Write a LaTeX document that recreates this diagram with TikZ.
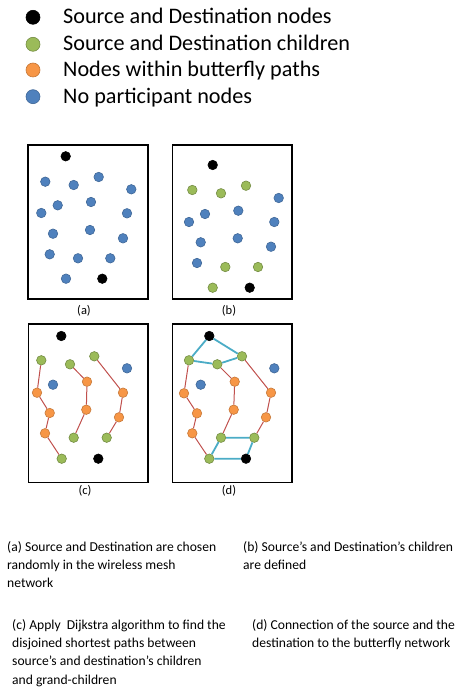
\documentclass[tikz,border=0pt]{standalone}
\usepackage{fontspec}
\setmainfont{Carlito}
\usepackage{tikz}
\definecolor{srcblack}{RGB}{0,0,0}
\definecolor{childgreen}{RGB}{155,187,89}
\definecolor{pathorange}{RGB}{247,150,70}
\definecolor{idleblue}{RGB}{79,129,189}
\definecolor{pathred}{RGB}{192,80,77}
\definecolor{linkcyan}{RGB}{75,172,198}

\begin{document}
\begin{tikzpicture}[x=1pt,y=-1pt]
	\tikzstyle{dot}=[circle,inner sep=0pt,minimum size=9.5pt,line width=0.6pt]
	\tikzstyle{src}=[dot,fill=srcblack,draw=srcblack]
	\tikzstyle{child}=[dot,fill=childgreen,draw=childgreen!75!black]
	\tikzstyle{hop}=[dot,fill=pathorange,draw=pathorange!80!black]
	\tikzstyle{idle}=[dot,fill=idleblue,draw=idleblue!80!black]
	\tikzstyle{legdot}=[dot,minimum size=14pt]
	\tikzstyle{panel}=[draw,line width=1.4pt]
	\tikzstyle{path}=[pathred,line width=1pt]
	\tikzstyle{link}=[linkcyan,line width=1.8pt]
	\tikzstyle{legend}=[anchor=base west,inner sep=0pt,font=\fontsize{22.2}{26}\selectfont]
	\tikzstyle{caption}=[anchor=north west,inner sep=0pt,align=left,font=\fontsize{13.6}{18.4}\selectfont]
	\tikzstyle{tag}=[font=\fontsize{12.5}{14}\selectfont]

	\useasboundingbox (0,0) rectangle (456,692);

	% legend
	\node[src,legdot] at (33,17.3) (ls) {};
	\node[child,legdot] at (33,44.3) (lc) {};
	\node[hop,legdot] at (33,70) (lh) {};
	\node[idle,legdot] at (33,96.7) (li) {};
	\node[legend] at (63,24) (lst) {Source and Destination nodes};
	\node[legend] at (63,51) (lct) {Source and Destination children};
	\node[legend] at (63,77) (lht) {Nodes within butterfly paths};
	\node[legend] at (63,103.5) (lit) {No participant nodes};

	% panel (a)
	\draw[panel] (28,145) rectangle (148,299);
	\node[tag] at (84,311) (ta) {(a)};
	\node[src] at (65.7,156.3) (sa) {};
	\node[idle] at (45.3,181.7) (na1) {};
	\node[idle] at (73.7,185) (na2) {};
	\node[idle] at (98.7,177) (na3) {};
	\node[idle] at (131.3,189.3) (na4) {};
	\node[idle] at (57.7,205.3) (na5) {};
	\node[idle] at (91,202) (na6) {};
	\node[idle] at (41.3,213) (na7) {};
	\node[idle] at (127,213.3) (na8) {};
	\node[idle] at (53,233.7) (na9) {};
	\node[idle] at (90,230) (na10) {};
	\node[idle] at (123,238.3) (na11) {};
	\node[idle] at (49.7,254.3) (na12) {};
	\node[idle] at (78,258.3) (na13) {};
	\node[idle] at (110.3,258.3) (na14) {};
	\node[idle] at (66,278.7) (na15) {};
	\node[src] at (102.3,278.7) (da) {};

	% panel (b)
	\draw[panel] (172.3,145) rectangle (292,299);
	\node[tag] at (229,311) (tb) {(b)};
	\node[src] at (212.7,165) (sb) {};
	\node[child] at (192.3,190) (gb1) {};
	\node[child] at (221,193.3) (gb2) {};
	\node[child] at (246,185.7) (gb3) {};
	\node[idle] at (278.7,198) (nb1) {};
	\node[idle] at (205,214) (nb2) {};
	\node[idle] at (238.3,210.7) (nb3) {};
	\node[idle] at (189,222) (nb4) {};
	\node[idle] at (274.3,222) (nb5) {};
	\node[idle] at (200.7,242.3) (nb6) {};
	\node[idle] at (237.7,238.3) (nb7) {};
	\node[idle] at (271,246.7) (nb8) {};
	\node[idle] at (197,263) (nb9) {};
	\node[child] at (225.3,267) (gb4) {};
	\node[child] at (258,267) (gb5) {};
	\node[child] at (212.7,287.7) (gb6) {};
	\node[src] at (249.7,287.7) (db) {};

	% panel (c)
	\draw[panel] (28.3,324) rectangle (148,482.3);
	\node[tag] at (85,491) (tc) {(c)};
	\node[src] at (61.3,336) (sc) {};
	\node[child] at (41.3,360.3) (gc1) {};
	\node[child] at (70,364.3) (gc2) {};
	\node[child] at (94.3,356.3) (gc3) {};
	\node[idle] at (127,368.3) (nc1) {};
	\node[idle] at (53,384.7) (nc2) {};
	\node[hop] at (37,392.7) (oc1) {};
	\node[hop] at (87,381.7) (oc2) {};
	\node[hop] at (123,392.7) (oc3) {};
	\node[hop] at (49.7,413) (oc4) {};
	\node[hop] at (86.3,409.7) (oc5) {};
	\node[hop] at (119,417.3) (oc6) {};
	\node[hop] at (45,433.3) (oc7) {};
	\node[child] at (73.7,437.7) (gc4) {};
	\node[child] at (106.7,437.7) (gc5) {};
	\node[child] at (61.7,458.7) (gc6) {};
	\node[src] at (98.3,458.7) (dc) {};

	\draw[path] (gc1) -- (oc1) -- (oc4) -- (oc7) -- (gc6);
	\draw[path] (gc2) -- (oc2) -- (oc5) -- (gc4);
	\draw[path] (gc3) -- (oc3) -- (oc6) -- (gc5);

	% panel (d)
	\draw[panel] (172.3,324) rectangle (292,482.3);
	\node[tag] at (229,491) (td) {(d)};
	\node[src] at (209.3,336) (sd) {};
	\node[child] at (189,360.3) (gd1) {};
	\node[child] at (217.3,364.3) (gd2) {};
	\node[child] at (242,356.3) (gd3) {};
	\node[idle] at (274.3,368.3) (nd1) {};
	\node[idle] at (200.7,384.7) (nd2) {};
	\node[hop] at (184,393.3) (od1) {};
	\node[hop] at (234.7,381.7) (od2) {};
	\node[hop] at (271,392.7) (od3) {};
	\node[hop] at (197,413.3) (od4) {};
	\node[hop] at (233.7,409.7) (od5) {};
	\node[hop] at (266,417.3) (od6) {};
	\node[hop] at (192.3,433.3) (od7) {};
	\node[child] at (221,437.7) (gd4) {};
	\node[child] at (254.3,437.7) (gd5) {};
	\node[child] at (209.3,458.7) (gd6) {};
	\node[src] at (246,458.7) (dd) {};

	\draw[path] (gd1) -- (od1) -- (od4) -- (od7) -- (gd6);
	\draw[path] (gd2) -- (od2) -- (od5) -- (gd4);
	\draw[path] (gd3) -- (od3) -- (od6) -- (gd5);

	\draw[link] (gd1) -- (sd) -- (gd3) -- (gd2) -- (gd1);
	\draw[link] (gd6) -- (dd) -- (gd5) -- (gd4) -- (gd6);

	% captions
	\node[caption] at (7,541) (ca) {(a) Source and Destination are chosen\\randomly in the wireless mesh\\network};
	\node[caption] at (243,541) (cb) {(b) Source’s and Destination’s children\\are defined};
	\node[caption] at (12,619) (cc) {(c) Apply \ Dijkstra algorithm to find the\\disjoined shortest paths between\\source’s and destination’s children\\and grand-children};
	\node[caption] at (252,619) (cd) {(d) Connection of the source and the\\destination to the butterfly network};
\end{tikzpicture}
\end{document}
